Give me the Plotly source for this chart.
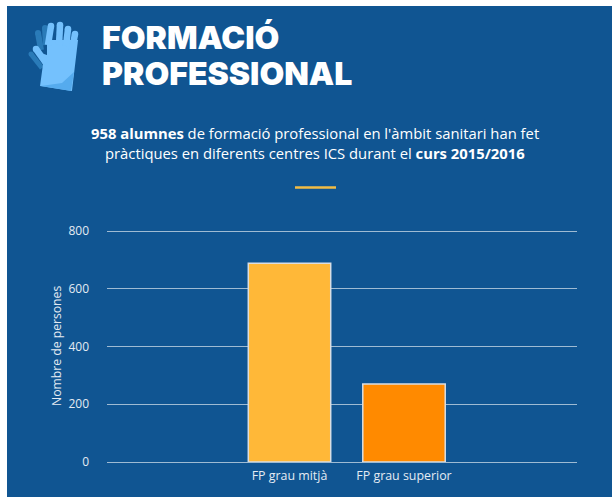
import plotly.graph_objects as go

categories = ["FP grau mitjà", "FP grau superior"]
values = [688, 270]
bar_colors = ["#FFB838", "#FF8A00"]
y_ticks = [0, 200, 400, 600, 800]
y_title = "Nombre de persones"
title_lines = ["FORMACIÓ", "PROFESSIONAL"]
subtitle_lines = [
    "<b>958 alumnes</b> de formació professional en l'àmbit sanitari han fet",
    "pràctiques en diferents centres ICS durant el <b>curs 2015/2016</b>",
]

W, H = 612, 497
BG = "#105592"
LINE = "rgba(255,255,255,0.6)"
TXT = "#E4EBF3"


def px(x):
    return x / W


def py(y):
    return 1 - y / H


def poly(points, color):
    path = "M " + " L ".join(f"{px(a):.4f},{py(b):.4f}" for a, b in points) + " Z"
    return dict(type="path", xref="paper", yref="paper", path=path,
                fillcolor=color, line=dict(width=0), layer="below")


def finger(x0, y0, x1, y1, w, color):
    r = w / 2
    return [
        dict(type="line", xref="paper", yref="paper",
             x0=px(x0), y0=py(y0), x1=px(x1), y1=py(y1),
             line=dict(color=color, width=w), layer="below"),
        dict(type="circle", xref="paper", yref="paper",
             x0=px(x0 - r), x1=px(x0 + r), y0=py(y0 + r), y1=py(y0 - r),
             fillcolor=color, line=dict(width=0), layer="below"),
    ]


DARK = "#2A7BB8"
LIGHT = "#74C1FD"
MID = "#55ABEE"

shapes = [
    dict(type="rect", xref="paper", yref="paper", x0=px(7), x1=1, y0=0, y1=py(6),
         fillcolor=BG, line=dict(width=0), layer="below"),
]
# glove, shadow behind
shapes += finger(38, 33, 41, 50, 6, DARK)
shapes += finger(45, 28, 46, 45, 6, DARK)
shapes += finger(31, 54, 42, 68, 5, DARK)
# glove, front
shapes.append(poly([(47, 40), (78, 40), (72, 91), (40, 86), (43, 64), (38, 52), (47, 55)], LIGHT))
shapes.append(poly([(41, 86), (62, 83), (74, 72), (71, 91)], MID))
shapes += finger(51, 26, 48, 45, 6.5, LIGHT)
shapes += finger(60, 25, 59, 45, 6.5, LIGHT)
shapes += finger(68, 29, 66, 46, 6.5, LIGHT)
shapes += finger(75, 34, 72, 50, 6.5, LIGHT)
shapes += finger(36, 49, 46, 63, 6.5, LIGHT)
# short yellow divider
shapes.append(dict(type="line", xref="paper", yref="paper", x0=px(295), x1=px(336),
                   y0=py(187.5), y1=py(187.5), line=dict(color="#F2BC45", width=2.5),
                   layer="below"))

annotations = []
for text, y in zip(title_lines, [37, 74]):
    annotations.append(dict(text=text, xref="paper", yref="paper", x=px(100), y=py(y),
                            xanchor="left", yanchor="middle", showarrow=False,
                            font=dict(family="Inter", size=32, color="white", weight=900)))
for text, y in zip(subtitle_lines, [133, 153]):
    annotations.append(dict(text=text, xref="paper", yref="paper", x=px(315.5), y=py(y),
                            xanchor="center", yanchor="middle", showarrow=False,
                            font=dict(family="Open Sans", size=14.8, color="white")))
annotations.append(dict(text=y_title, xref="paper", yref="paper", x=px(56), y=py(346),
                        xanchor="center", yanchor="middle", textangle=-90, showarrow=False,
                        font=dict(family="Open Sans", size=12.2, color=TXT)))

fig = go.Figure(go.Bar(
    x=categories, y=values, width=0.72,
    marker=dict(color=bar_colors, line=dict(color="#D9DEE3", width=1.5)),
))
fig.update_layout(
    width=W, height=H, autosize=False,
    margin=dict(l=0, r=0, t=0, b=0),
    paper_bgcolor="white", plot_bgcolor=BG,
    showlegend=False, shapes=shapes, annotations=annotations,
    font=dict(family="Open Sans", color=TXT),
    xaxis=dict(domain=[px(107), px(577)], range=[-1.594, 2.511], type="category",
               categoryorder="array", categoryarray=categories, automargin=False,
               showgrid=False, zeroline=False, showline=False, ticks="",
               tickfont=dict(size=12.4, color=TXT), ticklabelstandoff=5),
    yaxis=dict(domain=[py(462), py(229.56)], range=[0, 805], tickvals=y_ticks, automargin=False,
               gridcolor=LINE, gridwidth=1.2, zeroline=True, zerolinecolor=LINE,
               zerolinewidth=1.2, showline=False, ticks="",
               tickfont=dict(size=12, color=TXT), ticklabelstandoff=17),
)
fig.write_html("out.html", config=dict(displayModeBar=False),
               post_script="document.body.style.margin='0';")
